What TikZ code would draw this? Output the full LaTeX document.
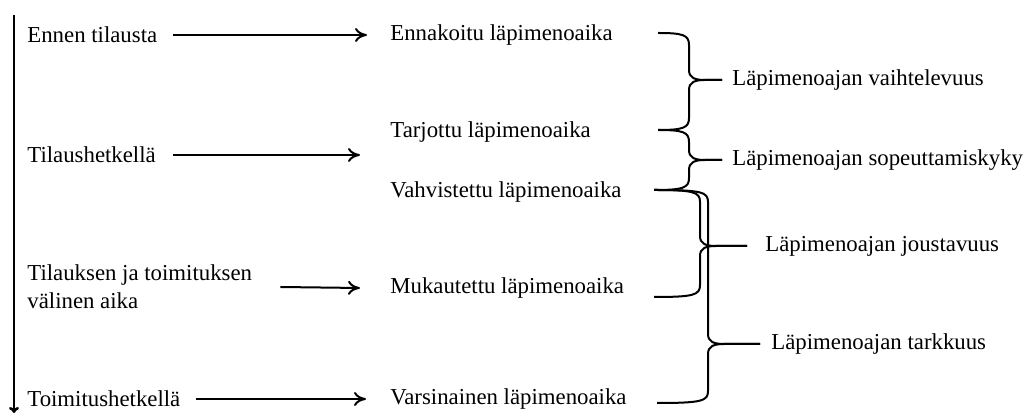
\documentclass[tikz,border=0pt]{standalone}
\usepackage{fontspec}
\setmainfont{Liberation Serif}
\usetikzlibrary{arrows.meta, positioning, calc}

% curly brace drawn as two halves meeting in the point
% #1,#2 top end, #3,#4 bottom end, #5 spine x, #6 point y, #7 point x
\newcommand{\wordbrace}[7]{%
  \draw[brc] (#1,#2) .. controls (#5-6,#2) and (#5,#2+2) .. (#5,#2+12)
    -- (#5,#6-10) .. controls (#5,#6-2) and (#5+6,#6) .. (#5+16,#6) -- (#7,#6);
  \draw[brc] (#7,#6) -- (#5+16,#6) .. controls (#5+6,#6) and (#5,#6+2) .. (#5,#6+10)
    -- (#5,#4-12) .. controls (#5,#4-2) and (#5-6,#4) .. (#3,#4);
}

\begin{document}
\begin{tikzpicture}[x=0.5pt, y=-0.5pt,
    lbl/.style={anchor=west, inner sep=0pt, align=left,
      font=\fontsize{11.4}{14}\selectfont},
    arr/.style={-{To[length=6pt,width=7pt]}, line width=1pt},
    brc/.style={line width=1pt}]

    \useasboundingbox (0,0) rectangle (1026,415);

    % Time axis
    \coordinate (start) at (14,15);
    \coordinate (end) at (14,413);
    \draw[line width=1.3pt, -{To[length=3pt,width=5pt]}] (start) -- (end);

    % Phases
    \node[lbl] (ennen) at (27,35) {Ennen tilausta};
    \node[lbl] (tilaus) at (27,155) {Tilaushetkellä};
    \node[lbl] (valinen) at (27,287) {Tilauksen ja toimituksen\\välinen aika};
    \node[lbl] (toimitus) at (27,399) {Toimitushetkellä};

    % Lead times
    \node[lbl] (ennak) at (390,35) {Ennakoitu läpimenoaika};
    \node[lbl] (tarj) at (390,132) {Tarjottu läpimenoaika};
    \node[lbl] (vahv) at (390,192) {Vahvistettu läpimenoaika};
    \node[lbl] (muk) at (390,288) {Mukautettu läpimenoaika};
    \node[lbl] (vars) at (390,399) {Varsinainen läpimenoaika};

    % Arrows between the columns
    \coordinate (tilaustip) at (360,155);
    \draw[arr] ([xshift=7.5pt]ennen.east) -- ([xshift=-11.5pt]ennak.west);
    \draw[arr] ([xshift=8.5pt]tilaus.east) -- (tilaustip);
    \draw[arr] ([xshift=14pt]valinen.east) -- ([xshift=-15pt]muk.west);
    \draw[arr] ([xshift=7.5pt]toimitus.east) -- ([xshift=-12pt]vars.west);

    % Properties
    \node[lbl] (vaiht) at (732,80) {Läpimenoajan vaihtelevuus};
    \node[lbl] (sopeu) at (732,160) {Läpimenoajan sopeuttamiskyky};
    \node[lbl] (joust) at (765,246) {Läpimenoajan joustavuus};
    \node[lbl] (tark) at (771,344) {Läpimenoajan tarkkuus};

    % Braces
    \wordbrace{658}{33}{658}{130}{689}{80}{722}
    \wordbrace{658}{130}{654}{190}{689}{160}{722}
    \wordbrace{654}{190}{654}{297}{700}{246}{747}
    \wordbrace{654}{190}{657}{403}{708}{344}{760}

\end{tikzpicture}
\end{document}
